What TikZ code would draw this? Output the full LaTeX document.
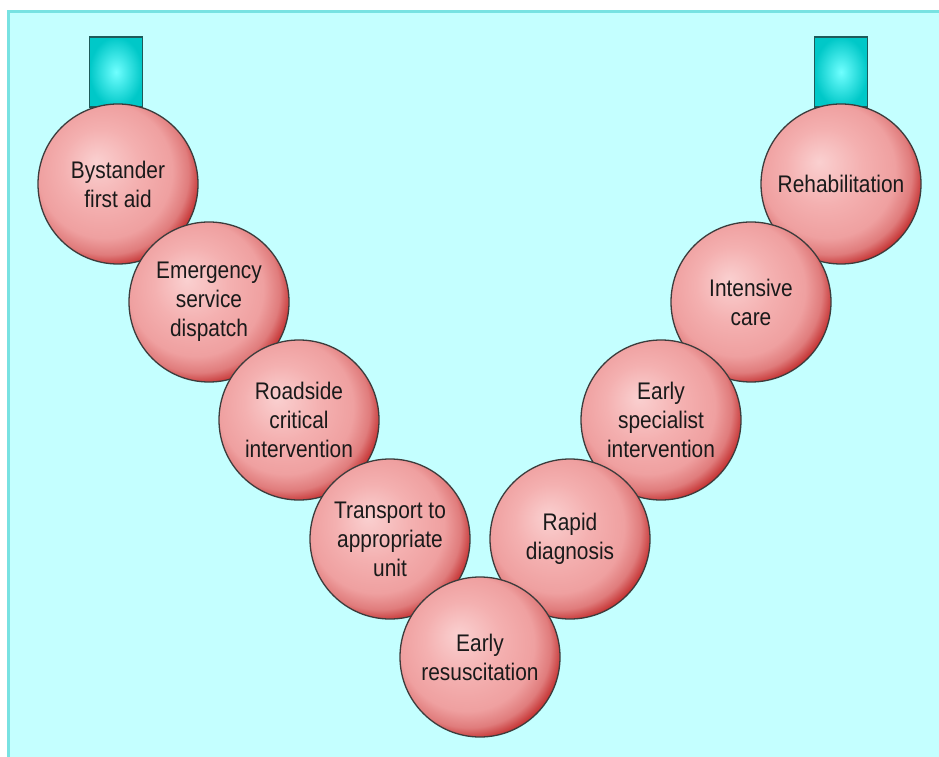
\documentclass[tikz,border=0pt]{standalone}
\usepackage{fontspec}
\newfontfamily\labfont{Liberation Sans}[FakeStretch=0.87]
\definecolor{panelfill}{HTML}{C4FFFF}
\definecolor{panelrule}{HTML}{78E2E2}
\definecolor{pkhi}{HTML}{FAD0D0}
\definecolor{pkmid}{HTML}{F4B0B0}
\definecolor{pkmidb}{HTML}{EFA0A0}
\definecolor{pkred}{HTML}{E07C7C}
\definecolor{pkdeep}{HTML}{C43030}
\definecolor{pkdark}{HTML}{A40000}
\definecolor{cyhi}{HTML}{70FFFF}
\definecolor{cylo}{HTML}{00C8C8}
\definecolor{rimgray}{HTML}{3C3C3C}
\definecolor{tabrule}{HTML}{1E5A5A}
\definecolor{txt}{HTML}{1A1A1A}
\pgfdeclareradialshading{pinkball}{\pgfpoint{-7bp}{7bp}}{%
  color(0bp)=(pkhi); color(12bp)=(pkmid); color(21bp)=(pkmidb);
  color(25.5bp)=(pkred); color(29bp)=(pkdeep); color(32.5bp)=(pkdark);
  color(50bp)=(pkdark)}
\tikzset{
  ballnode/.style={circle, minimum size=160pt, inner sep=0pt,
    shading=pinkball, draw=rimgray, line width=1.3pt,
    font=\labfont\fontsize{24}{29}\selectfont, text=txt, align=center},
  tabnode/.style={rectangle, minimum width=53pt, minimum height=70pt,
    inner sep=0pt, inner color=cyhi, outer color=cylo,
    draw=tabrule, line width=1.2pt}
}
\begin{document}
\begin{tikzpicture}[x=1pt,y=1pt]
\useasboundingbox (0,0) rectangle (939,756);
\fill[white] (0,0) rectangle (939,756);
\begin{scope}
  \clip (0,0) rectangle (939,756);
  \draw[fill=panelfill, draw=panelrule, line width=3pt] (8.5,-20) rectangle (960,744.5);
\end{scope}
% tabs
\node[tabnode] (tabL) at (116,684) {};
\node[tabnode] (tabR) at (841,684) {};
% circles, outer ones first so the middle lies on top
\node[ballnode] (c1) at (118,572) {Bystander\\first aid};
\node[ballnode] (c9) at (841,572) {Rehabilitation};
\node[ballnode] (c2) at (209,454) {Emergency\\service\\dispatch};
\node[ballnode] (c8) at (751,454) {Intensive\\care};
\node[ballnode] (c3) at (299,336) {Roadside\\critical\\intervention};
\node[ballnode] (c7) at (661,336) {Early\\specialist\\intervention};
\node[ballnode] (c4) at (390,217) {Transport to\\appropriate\\unit};
\node[ballnode] (c6) at (570,217) {Rapid\\diagnosis};
\node[ballnode] (c5) at (480,99) {Early\\resuscitation};
\end{tikzpicture}
\end{document}
